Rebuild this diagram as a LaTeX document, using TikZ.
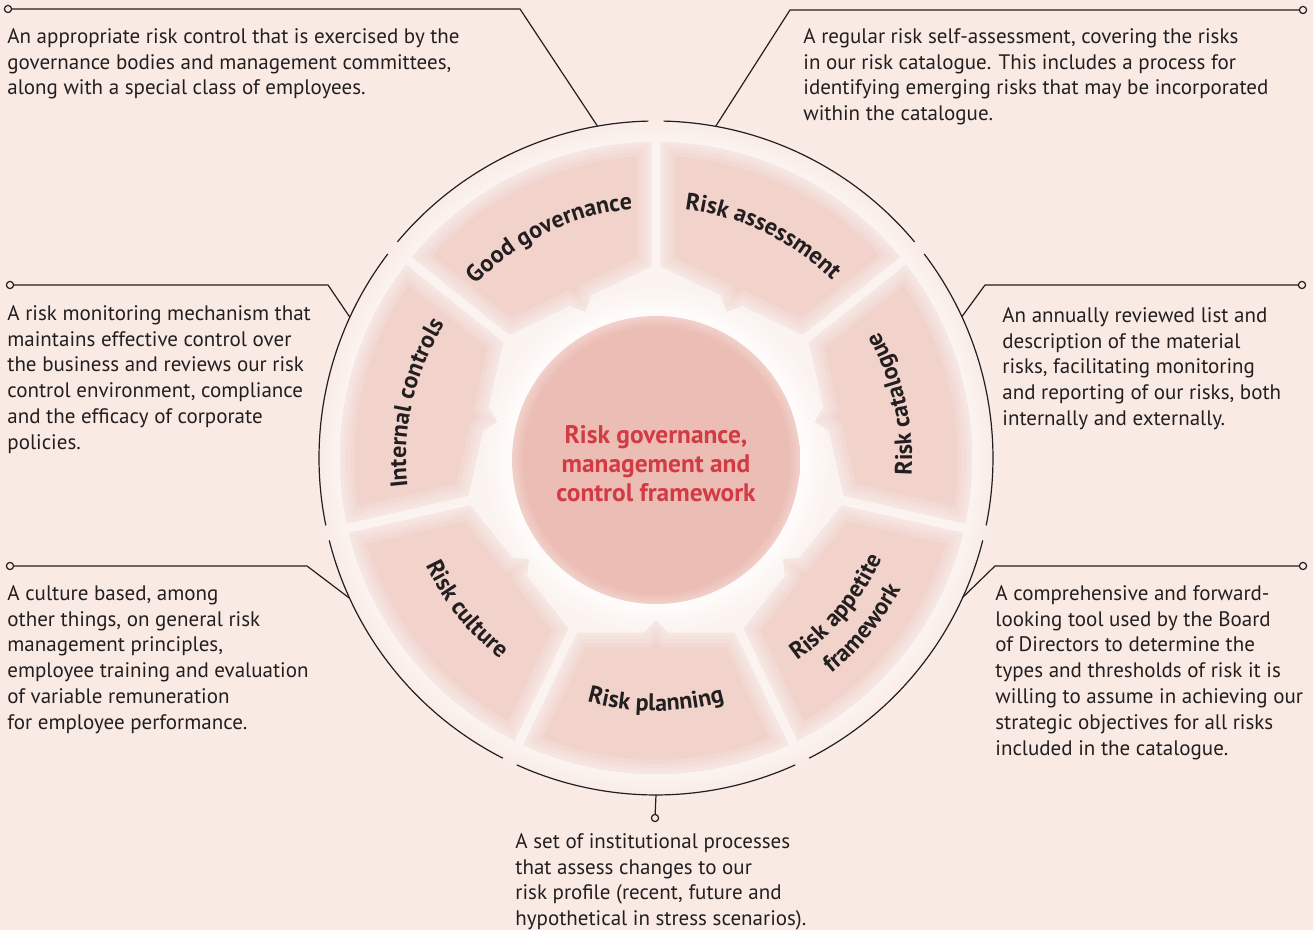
\documentclass[tikz,border=0pt]{standalone}
\usepackage{fontspec}
\setmainfont{PT Sans}
\usepackage{tikz}
\usetikzlibrary{decorations.text}
\definecolor{paper}{HTML}{F9EAE4}
\definecolor{halo}{HTML}{FBF3EF}
\definecolor{petal}{HTML}{F2D3CC}
\definecolor{core}{HTML}{EBBDB4}
\definecolor{corered}{HTML}{D23A44}
\definecolor{ink}{HTML}{231F20}

\pgfdeclareradialshading{discfade}{\pgfpointorigin}{color(0bp)=(halo); color(23.3bp)=(halo); color(25bp)=(paper); color(50bp)=(paper)}
\pgfdeclareradialshading{coreglow}{\pgfpointorigin}{color(0bp)=(white!75!halo); color(21bp)=(white!75!halo); color(25bp)=(halo); color(50bp)=(halo)}
\pgfdeclareradialshading{corefill}{\pgfpointorigin}{color(0bp)=(core); color(23bp)=(core); color(25bp)=(core!70!white); color(50bp)=(core!70!white)}

% one petal of the ring, centred on angle #1
\newcommand\petalpath[1]{({#1-24.23}:191.7) -- ({#1-24.81}:316)
  arc[start angle={#1-24.81}, end angle={#1+24.81}, radius=316]
  -- ({#1+24.23}:191.7) -- ({#1+3.93}:175.2) -- (#1:162.8) -- ({#1-3.93}:175.2) -- cycle}

\begin{document}
\begin{tikzpicture}[x=0.5pt, y=0.5pt,
  body/.style={font=\fontsize{10.5}{12.9}\selectfont, text=ink, align=left,
    inner sep=0pt, anchor=north west},
  lead/.style={draw=ink, line width=0.6pt},
  pin/.style={circle, draw=ink, line width=0.6pt, fill=paper, inner sep=0pt,
    minimum size=3.6pt},
  rim/.style={draw=ink, line width=0.6pt},
  lbl/.style={decorate, decoration={text along path, text align=center,
    text color=ink, text={|\fontsize{12}{14}\selectfont\bfseries|#1}}},
]
  \useasboundingbox (-656,-472) rectangle (657,458);
  \fill[paper] (-656,-472) rectangle (657,458);

  % ring
  \shade[shading=discfade] (0,0) circle[radius=342];
  \shade[shading=coreglow] (0,-2) circle[radius=174];
  \foreach \c in {270,321.43,12.86,64.29,115.71,167.14,218.57} {
    \fill[petal] \petalpath{\c};
    \begin{scope}
      \clip \petalpath{\c};
      \foreach \w in {14,10,6,3}
        \draw[white, opacity=.14, line width=\w pt] \petalpath{\c};
    \end{scope}
    \draw[rim] ({\c-24.4}:337) arc[start angle=\c-24.4, end angle=\c+24.4, radius=337];
  }
  \shade[shading=corefill] (0,-2) circle[radius=144];
  \node[font=\fontsize{12.7}{14.5}\selectfont\bfseries, text=corered, align=center]
    (hub) at (0,-6) {Risk governance,\\management and\\control framework};

  % petal labels
  \path[lbl=Good governance] (155.71:250) arc[start angle=155.71, end angle=75.71, radius=250];
  \path[lbl=Risk assessment] (104.29:250) arc[start angle=104.29, end angle=24.29, radius=250];
  \path[lbl=Internal controls] (207.14:250) arc[start angle=207.14, end angle=127.14, radius=250];
  \path[lbl=Risk catalogue] (-27.14:256) arc[start angle=-27.14, end angle=52.86, radius=256];
  \path[lbl=Risk appetite] (280.43:247) arc[start angle=280.43, end angle=360.43, radius=247];
  \path[lbl=framework] (280.43:278) arc[start angle=280.43, end angle=360.43, radius=278];
  \path[lbl=Risk planning] (230:253) arc[start angle=230, end angle=310, radius=253];
  \path[lbl=Risk culture] (178.57:254) arc[start angle=178.57, end angle=258.57, radius=254];

  % notes
  \node[body] (govtxt) at (-649,430) {An appropriate risk control that is exercised by the\\governance bodies and management committees,\\along with a special class of employees.};
  \node[body] (asstxt) at (147,430) {A regular risk self-assessment, covering the risks\\in our risk catalogue. This includes a process for\\identifying emerging risks that may be incorporated\\within the catalogue.};
  \node[body] (ictxt) at (-649,153) {A risk monitoring mechanism that\\maintains effective control over\\the business and reviews our risk\\control environment, compliance\\and the efficacy of corporate\\policies.};
  \node[body] (cattxt) at (346,151) {An annually reviewed list and\\description of the material\\risks, facilitating monitoring\\and reporting of our risks, both\\internally and externally.};
  \node[body] (cultxt) at (-649,-127) {A culture based, among\\other things, on general risk\\management principles,\\employee training and evaluation\\of variable remuneration\\for employee performance.};
  \node[body] (apptxt) at (339,-127) {A comprehensive and forward-\\looking tool used by the Board\\of Directors to determine the\\types and thresholds of risk it is\\willing to assume in achieving our\\strategic objectives for all risks\\included in the catalogue.};
  \node[body] (plantxt) at (-141,-375) {A set of institutional processes\\that assess changes to our\\risk profile (recent, future and\\hypothetical in stress scenarios).};

  % leaders
  \node[pin] (govdot) at (-648,449) {};
  \node[pin] (assdot) at (647,448) {};
  \node[pin] (icdot) at (-646,173) {};
  \node[pin] (catdot) at (646,173) {};
  \node[pin] (culdot) at (-646,-108) {};
  \node[pin] (appdot) at (647,-108) {};
  \node[pin] (plandot) at (-1,-360) {};
  \coordinate (govbend) at (-136,449);
  \coordinate (assbend) at (134,448);
  \coordinate (icbend) at (-328,173);
  \coordinate (catbend) at (329,173);
  \coordinate (culbend) at (-349,-108);
  \coordinate (appbend) at (339,-108);
  \coordinate (govhook) at (100:337);
  \coordinate (asshook) at (79.8:337);
  \coordinate (ichook) at (155.3:337);
  \coordinate (cathook) at (24.8:337);
  \coordinate (culhook) at (204.6:337);
  \coordinate (apphook) at (335.6:337);
  \coordinate (planhook) at (270:337);
  \draw[lead] (govdot) -- (govbend) -- (govhook);
  \draw[lead] (assdot) -- (assbend) -- (asshook);
  \draw[lead] (icdot) -- (icbend) -- (ichook);
  \draw[lead] (catdot) -- (catbend) -- (cathook);
  \draw[lead] (culdot) -- (culbend) -- (culhook);
  \draw[lead] (appdot) -- (appbend) -- (apphook);
  \draw[lead] (plandot) -- (planhook);
\end{tikzpicture}
\end{document}
